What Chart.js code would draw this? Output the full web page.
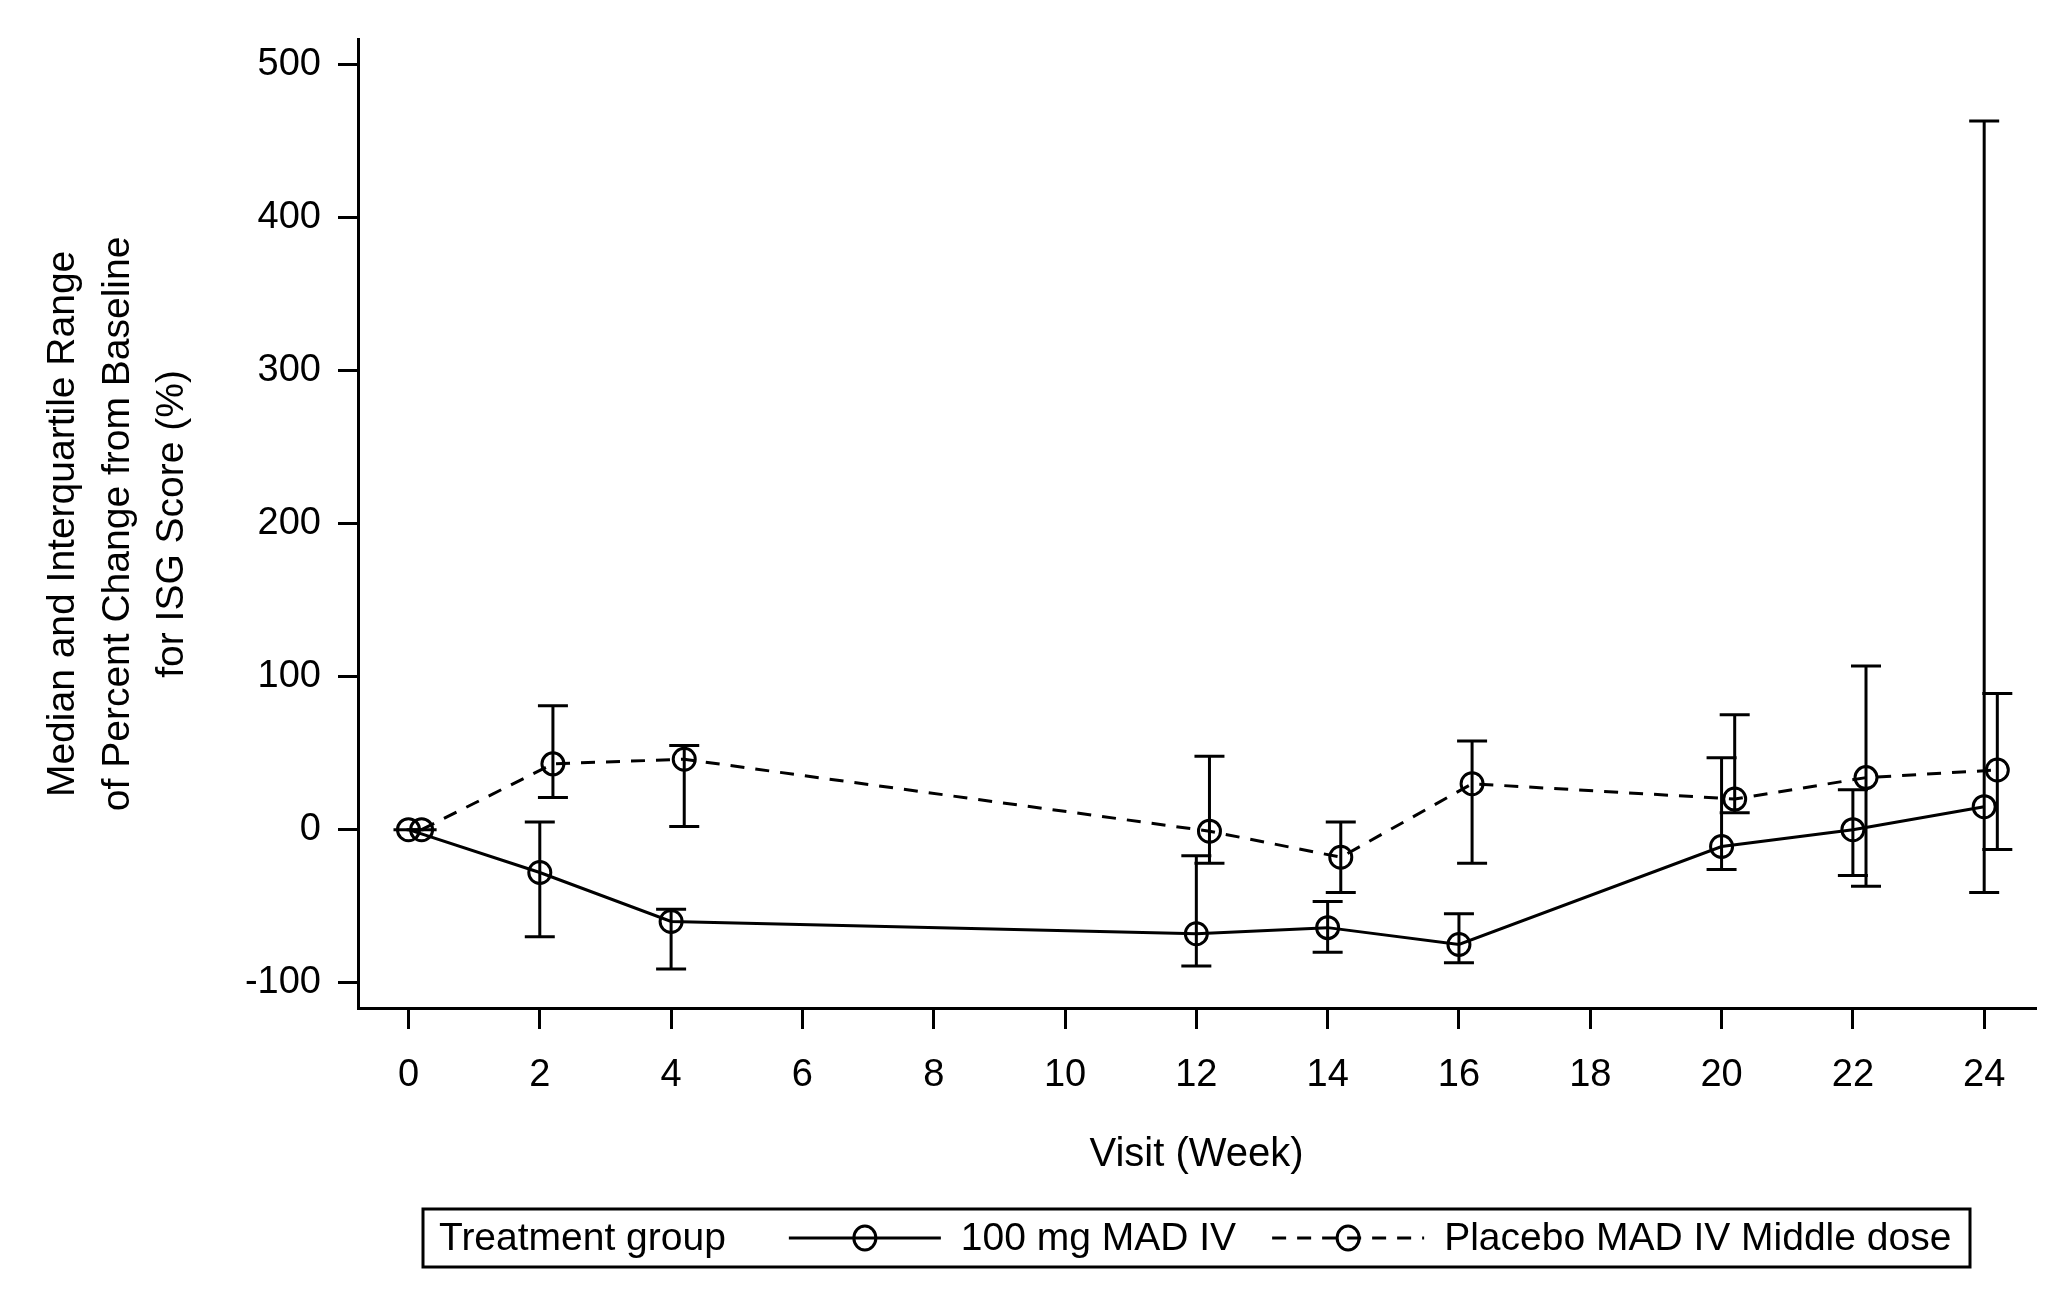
<!DOCTYPE html>
<html>
<head>
<meta charset="utf-8">
<script src="https://cdn.jsdelivr.net/npm/chart.js@4/dist/chart.umd.min.js"></script>
<style>
  html, body { margin: 0; padding: 0; background: #fff; }
  #wrap { width: 2067px; height: 1299px; }
</style>
</head>
<body>
<div id="wrap"><canvas id="grafico"></canvas></div>
<script>
// ===== Dados =====
const semanas = [0, 2, 4, 12, 14, 16, 20, 22, 24];
const deslocPlacebo = 0.2;

const tratMediana = [0, -28, -60, -68, -64, -75, -11, 0, 15];
const tratQ1 = [0, -70, -91, -89, -80, -87, -26, -30, -41];
const tratQ3 = [0, 5, -52, -17, -47, -55, 47, 26, 463];

const placMediana = [0, 43, 46, -1, -18, 30, 20, 34, 39];
const placQ1 = [0, 21, 2, -22, -41, -22, 11, -37, -13];
const placQ3 = [0, 81, 55, 48, 5, 58, 75, 107, 89];

const xTicks = [0, 2, 4, 6, 8, 10, 12, 14, 16, 18, 20, 22, 24];
const yTicks = [-100, 0, 100, 200, 300, 400, 500];

const nomeTrat = "100 mg MAD IV";
const nomePlac = "Placebo MAD IV Middle dose";
const tituloLegenda = "Treatment group";

const FONTE = "'Liberation Sans', Arial, Helvetica, sans-serif";
Chart.defaults.font.family = FONTE;
Chart.defaults.color = "#000";

// ===== Barras de erro (IQR) =====
const barrasErro = {
  id: "barrasErro",
  afterDatasetsDraw(chart) {
    const { ctx, scales: { x, y } } = chart;
    const cap = 15;
    chart.data.datasets.forEach(ds => {
      ctx.save();
      ctx.strokeStyle = "#000";
      ctx.lineWidth = 3;
      ctx.setLineDash([]);
      ds.data.forEach((p, i) => {
        const px = x.getPixelForValue(p.x);
        const lo = y.getPixelForValue(ds.q1[i]);
        const hi = y.getPixelForValue(ds.q3[i]);
        ctx.beginPath();
        ctx.moveTo(px, lo); ctx.lineTo(px, hi);
        ctx.moveTo(px - cap, lo); ctx.lineTo(px + cap, lo);
        ctx.moveTo(px - cap, hi); ctx.lineTo(px + cap, hi);
        ctx.stroke();
      });
      ctx.restore();
    });
  }
};

// ===== Legenda em caixa =====
const legendaCaixa = {
  id: "legendaCaixa",
  afterDraw(chart) {
    const ctx = chart.ctx;
    const left = 423, top = 1209, right = 1970, bottom = 1267;
    const meio = (top + bottom) / 2;
    ctx.save();
    ctx.strokeStyle = "#000";
    ctx.lineWidth = 3;
    ctx.strokeRect(left, top, right - left, bottom - top);

    ctx.font = "39px " + FONTE;
    ctx.fillStyle = "#000";
    ctx.textBaseline = "middle";
    ctx.textAlign = "left";

    let x = left + 16;
    ctx.fillText(tituloLegenda, x, meio + 1);
    x += ctx.measureText(tituloLegenda).width + 63;

    chart.data.datasets.forEach(ds => {
      const comp = 152;
      ctx.beginPath();
      ctx.lineWidth = 3;
      ctx.setLineDash(ds.borderDash || []);
      ctx.moveTo(x, meio); ctx.lineTo(x + comp, meio);
      ctx.stroke();
      ctx.setLineDash([]);
      ctx.beginPath();
      ctx.ellipse(x + comp / 2, meio, 11, 12, 0, 0, Math.PI * 2);
      ctx.stroke();
      x += comp + 20;
      ctx.fillText(ds.label, x, meio + 1);
      x += ctx.measureText(ds.label).width + 36;
    });
    ctx.restore();
  }
};

// ===== Gráfico =====
const ctxGrafico = document.getElementById("grafico");
new Chart(ctxGrafico, {
  type: "line",
  data: {
    datasets: [
      {
        label: nomeTrat,
        data: semanas.map((s, i) => ({ x: s, y: tratMediana[i] })),
        q1: tratQ1,
        q3: tratQ3,
        borderColor: "#000",
        borderWidth: 3,
        pointStyle: "circle",
        pointRadius: 11,
        pointBorderWidth: 3,
        pointBorderColor: "#000",
        pointBackgroundColor: "rgba(0,0,0,0)",
        tension: 0
      },
      {
        label: nomePlac,
        data: semanas.map((s, i) => ({ x: s + deslocPlacebo, y: placMediana[i] })),
        q1: placQ1,
        q3: placQ3,
        borderColor: "#000",
        borderWidth: 3,
        borderDash: [14, 11],
        pointStyle: "circle",
        pointRadius: 11,
        pointBorderWidth: 3,
        pointBorderColor: "#000",
        pointBackgroundColor: "rgba(0,0,0,0)",
        tension: 0
      }
    ]
  },
  options: {
    responsive: true,
    maintainAspectRatio: false,
    animation: false,
    layout: { padding: { left: 0, top: 25, right: 32, bottom: 120 } },
    plugins: {
      legend: { display: false },
      tooltip: { enabled: false },
      title: { display: false }
    },
    scales: {
      x: {
        type: "linear",
        min: -0.769,
        max: 24.774,
        afterBuildTicks: s => { s.ticks = xTicks.map(v => ({ value: v })); },
        afterFit: s => { s.height = 171; },
        grid: { drawOnChartArea: false, drawTicks: true, tickLength: 21, lineWidth: 3, color: "#000" },
        border: { display: true, width: 3, color: "#000" },
        ticks: { font: { size: 38 }, padding: 24, color: "#000", maxRotation: 0 },
        title: { display: true, text: "Visit (Week)", font: { size: 40 }, color: "#000", padding: { top: 0, bottom: 0 } }
      },
      y: {
        type: "linear",
        min: -116.5,
        max: 516,
        afterBuildTicks: s => { s.ticks = yTicks.map(v => ({ value: v })); },
        afterFit: s => { s.width = 358; },
        grid: { drawOnChartArea: false, drawTicks: true, tickLength: 20, lineWidth: 3, color: "#000" },
        border: { display: true, width: 3, color: "#000" },
        ticks: { font: { size: 38 }, padding: 17, color: "#000" },
        title: {
          display: true,
          text: ["Median and Interquartile Range", "of Percent Change from Baseline", "for ISG Score (%)"],
          font: { size: 39, lineHeight: 1.4 },
          color: "#000",
          padding: { top: 36, bottom: 0 }
        }
      }
    }
  },
  plugins: [barrasErro, legendaCaixa]
});
</script>
</body>
</html>
